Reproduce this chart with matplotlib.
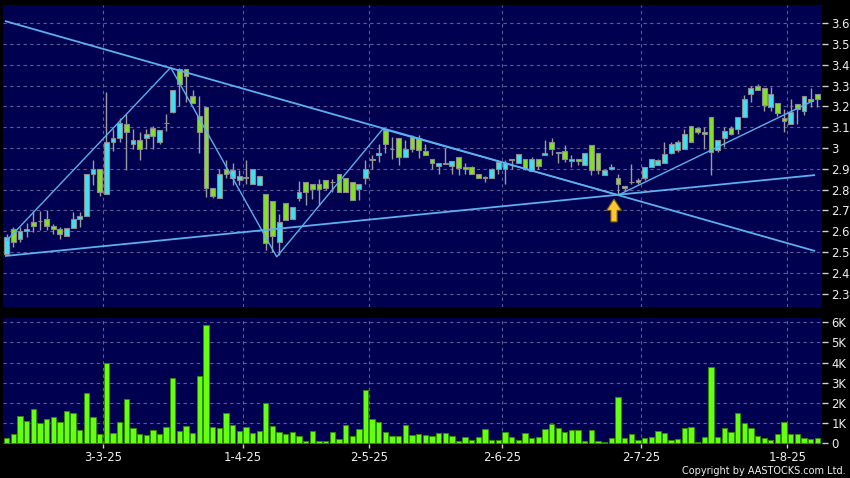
import matplotlib
matplotlib.use("Agg")
import matplotlib.pyplot as plt
import numpy as np
from matplotlib.patches import Polygon

# ---------------- data ----------------
opens = [2.489, 2.609, 2.561, 2.601, 2.642, 2.650, 2.661, 2.626, 2.609, 2.578,
         2.617, 2.661, 2.672, 2.876, 2.900, 2.781, 3.029, 3.048, 3.115, 3.020,
         3.039, 3.048, 3.094, 3.029, 3.118, 3.174, 3.378, 3.378, 3.249, 3.155,
         3.195, 2.808, 2.762, 2.900, 2.857, 2.848, 2.857, 2.828, 2.820, 2.781,
         2.746, 2.550, 2.738, 2.658, 2.760, 2.837, 2.829, 2.826, 2.848, 2.837,
         2.873, 2.856, 2.837, 2.802, 2.856, 2.940, 2.967, 3.088, 2.996, 3.047,
         2.956, 3.053, 3.049, 2.985, 2.948, 2.912, 2.921, 2.912, 2.956, 2.908,
         2.908, 2.877, 2.857, 2.857, 2.897, 2.897, 2.940, 2.929, 2.948, 2.889,
         2.948, 2.967, 3.028, 2.977, 2.985, 2.937, 2.948, 2.916, 3.012, 2.977,
         2.869, 2.900, 2.857, 2.818, 2.837, 2.837, 2.857, 2.908, 2.916, 2.929,
         2.977, 2.990, 2.996, 3.108, 3.095, 3.076, 3.147, 2.988, 3.049, 3.095,
         3.089, 3.148, 3.259, 3.296, 3.286, 3.195, 3.216, 3.143, 3.116, 3.211,
         3.179, 3.235, 3.259]
highs = [2.589, 2.621, 2.621, 2.640, 2.698, 2.698, 2.701, 2.637, 2.621, 2.617,
         2.693, 2.693, 2.876, 2.940, 2.900, 3.270, 3.091, 3.142, 3.163, 3.091,
         3.075, 3.091, 3.107, 3.087, 3.163, 3.278, 3.383, 3.378, 3.278, 3.251,
         3.195, 2.808, 2.900, 2.940, 2.927, 2.892, 2.940, 2.900, 2.865, 2.781,
         2.746, 2.685, 2.738, 2.717, 2.840, 2.837, 2.829, 2.850, 2.848, 2.853,
         2.873, 2.856, 2.837, 2.826, 2.940, 2.967, 3.020, 3.088, 3.052, 3.047,
         3.036, 3.060, 3.060, 3.020, 2.948, 2.929, 2.999, 2.937, 2.956, 2.928,
         2.912, 2.877, 2.864, 2.905, 2.943, 2.943, 2.948, 2.969, 2.948, 2.956,
         2.948, 3.036, 3.049, 2.983, 3.012, 2.967, 2.948, 2.977, 3.012, 2.977,
         2.893, 2.921, 2.877, 2.818, 2.921, 2.857, 2.908, 2.948, 2.948, 3.028,
         3.028, 3.040, 3.092, 3.108, 3.095, 3.100, 3.147, 3.036, 3.100, 3.108,
         3.148, 3.254, 3.299, 3.307, 3.286, 3.291, 3.216, 3.187, 3.235, 3.211,
         3.248, 3.286, 3.259]
lows = [2.485, 2.523, 2.550, 2.573, 2.597, 2.605, 2.605, 2.586, 2.561, 2.578,
        2.617, 2.621, 2.672, 2.820, 2.768, 2.781, 2.985, 3.028, 2.892, 2.996,
        2.940, 2.996, 2.996, 3.020, 3.083, 3.166, 3.203, 3.219, 3.214, 2.975,
        2.765, 2.762, 2.762, 2.857, 2.820, 2.820, 2.828, 2.828, 2.820, 2.510,
        2.502, 2.486, 2.654, 2.658, 2.744, 2.725, 2.757, 2.728, 2.797, 2.789,
        2.789, 2.789, 2.748, 2.749, 2.829, 2.897, 2.932, 2.977, 2.948, 2.920,
        2.956, 2.980, 2.951, 2.967, 2.900, 2.877, 2.921, 2.877, 2.869, 2.877,
        2.877, 2.857, 2.837, 2.857, 2.877, 2.829, 2.900, 2.929, 2.892, 2.889,
        2.900, 2.967, 2.967, 2.928, 2.935, 2.908, 2.920, 2.916, 2.869, 2.877,
        2.869, 2.896, 2.773, 2.797, 2.829, 2.826, 2.848, 2.908, 2.916, 2.929,
        2.969, 2.980, 2.996, 3.028, 3.068, 2.996, 2.869, 2.980, 3.004, 3.060,
        3.068, 3.148, 3.219, 3.280, 3.179, 3.179, 3.155, 3.076, 3.116, 3.116,
        3.159, 3.195, 3.195]
closes = [2.570, 2.550, 2.599, 2.610, 2.626, 2.650, 2.626, 2.609, 2.589, 2.617,
          2.661, 2.674, 2.876, 2.900, 2.789, 3.029, 3.048, 3.118, 3.075, 3.039,
          2.996, 3.067, 3.058, 3.087, 3.118, 3.278, 3.306, 3.346, 3.214, 3.075,
          2.808, 2.768, 2.876, 2.876, 2.892, 2.865, 2.857, 2.900, 2.865, 2.542,
          2.577, 2.642, 2.654, 2.717, 2.789, 2.789, 2.802, 2.802, 2.810, 2.837,
          2.789, 2.789, 2.748, 2.826, 2.897, 2.948, 2.977, 3.020, 2.996, 2.956,
          2.996, 2.996, 2.988, 2.967, 2.929, 2.929, 2.929, 2.937, 2.904, 2.901,
          2.877, 2.857, 2.857, 2.897, 2.935, 2.927, 2.948, 2.969, 2.900, 2.948,
          2.913, 2.977, 2.996, 2.977, 2.948, 2.948, 2.937, 2.977, 2.893, 2.893,
          2.893, 2.908, 2.826, 2.808, 2.837, 2.848, 2.908, 2.948, 2.940, 2.969,
          3.020, 3.031, 3.068, 3.031, 3.076, 3.068, 2.980, 3.036, 3.084, 3.068,
          3.148, 3.235, 3.286, 3.280, 3.207, 3.259, 3.168, 3.132, 3.171, 3.187,
          3.248, 3.226, 3.235]
volumes_k = [0.28, 0.45, 1.36, 1.11, 1.72, 0.99, 1.22, 1.29, 1.06, 1.59,
             1.50, 0.66, 2.48, 1.29, 0.48, 3.98, 0.50, 1.06, 2.21, 0.76,
             0.46, 0.43, 0.66, 0.46, 0.79, 3.26, 0.63, 0.84, 0.53, 3.34,
             5.87, 0.81, 0.74, 1.49, 0.89, 0.61, 0.79, 0.51, 0.63, 2.00,
             0.84, 0.58, 0.46, 0.56, 0.36, 0.13, 0.60, 0.13, 0.13, 0.58,
             0.23, 0.91, 0.36, 0.69, 2.64, 1.21, 1.07, 0.56, 0.36, 0.38,
             0.91, 0.41, 0.47, 0.40, 0.38, 0.50, 0.52, 0.37, 0.12, 0.33,
             0.15, 0.33, 0.70, 0.17, 0.17, 0.55, 0.30, 0.18, 0.50, 0.27,
             0.32, 0.71, 0.97, 0.77, 0.55, 0.66, 0.66, 0.10, 0.66, 0.13,
             0.08, 0.25, 2.31, 0.28, 0.46, 0.17, 0.26, 0.31, 0.61, 0.53,
             0.17, 0.20, 0.78, 0.79, 0.05, 0.31, 3.77, 0.31, 0.76, 0.55,
             1.49, 0.99, 0.74, 0.36, 0.28, 0.18, 0.46, 1.07, 0.45, 0.45,
             0.25, 0.21, 0.28]

date_labels = ["3-3-25", "1-4-25", "2-5-25", "2-6-25", "2-7-25", "1-8-25"]
date_bar_idx = [15, 36, 55, 75, 96, 118]

price_ticks = [2.3, 2.4, 2.5, 2.6, 2.7, 2.8, 2.9, 3.0, 3.1, 3.2, 3.3, 3.4, 3.5, 3.6]
price_tick_labels = ["2.3", "2.4", "2.5", "2.6", "2.7", "2.8", "2.9", "3",
                     "3.1", "3.2", "3.3", "3.4", "3.5", "3.6"]
vol_ticks = [0, 1, 2, 3, 4, 5, 6]
vol_tick_labels = ["0", "1K", "2K", "3K", "4K", "5K", "6K"]

# drawn trend lines (bar index, price)
down_line_x = [-0.26, 121.66]
down_line_y = [3.610, 2.505]
up_line_x = [-0.26, 121.66]
up_line_y = [2.481, 2.870]
zigzag_x = [0.0, 24.68, 40.64, 56.59, 92.05, 121.4]
zigzag_y = [2.555, 3.387, 2.477, 3.091, 2.774, 3.227]
arrow_bar = 91.4
arrow_tip = 2.755
arrow_head_base = 2.700
arrow_tail = 2.645

# ---------------- style ----------------
BG = "#000050"
GRID = "#5e5e96"
UP = "#40e0f0"
DOWN = "#84e024"
EDGE = "#8c8c8c"
WICK = "#9c9c9c"
LINE = "#5cb0ee"
TXT = "#f0f0f0"

W, H = 850, 478
fig = plt.figure(figsize=(W / 100, H / 100), dpi=100, facecolor="black")

def px_axes(x0, y0, x1, y1):
    return fig.add_axes([x0 / W, 1 - y1 / H, (x1 - x0) / W, (y1 - y0) / H])

ax = px_axes(3.3, 5, 821.7, 307)
axv = px_axes(3.3, 318.3, 821.7, 444.3)

n = len(opens)
x = np.arange(n)
o = np.array(opens); c = np.array(closes)
h = np.array(highs); l = np.array(lows)

xlim = (-0.51, 122.66)
tick_pos = [i - 0.5 for i in date_bar_idx]

for a in (ax, axv):
    a.set_facecolor(BG)
    a.set_xlim(*xlim)
    for s in a.spines.values():
        s.set_visible(False)
    a.set_xticks(tick_pos)
    a.grid(True, color=GRID, linestyle=(0, (3, 3)), linewidth=0.8)
    a.set_axisbelow(True)
    a.yaxis.tick_right()
    a.tick_params(axis="y", colors="#d0d0d0", labelcolor=TXT, length=4,
                  width=1, pad=3, labelsize=8.4, direction="out")

# price panel
ax.set_ylim(2.236, 3.687)
ax.set_yticks(price_ticks)
ax.set_yticklabels(price_tick_labels)
ax.tick_params(axis="x", length=0, labelbottom=False)

ax.vlines(x, l, h, color=WICK, linewidth=1.0, zorder=2)
body_bottom = np.minimum(o, c)
body_h = np.maximum(np.abs(c - o), 0.0015)
colors = [UP if cc > oo else (DOWN if cc < oo else "#a0a0a0") for oo, cc in zip(o, c)]
ax.bar(x, body_h, bottom=body_bottom, width=0.72, color=colors,
       edgecolor=EDGE, linewidth=0.8, zorder=3)

ax.plot(down_line_x, down_line_y, color=LINE, linewidth=1.3, zorder=4,
        solid_capstyle="butt")
ax.plot(up_line_x, up_line_y, color=LINE, linewidth=1.3, zorder=4,
        solid_capstyle="butt")
ax.plot(zigzag_x, zigzag_y, color=LINE, linewidth=1.0, zorder=4)

hw, sw = 1.13, 0.47
arrow_pts = [(arrow_bar, arrow_tip), (arrow_bar + hw, arrow_head_base),
             (arrow_bar + sw, arrow_head_base), (arrow_bar + sw, arrow_tail),
             (arrow_bar - sw, arrow_tail), (arrow_bar - sw, arrow_head_base),
             (arrow_bar - hw, arrow_head_base)]
ax.add_patch(Polygon(arrow_pts, closed=True, facecolor="#ffc830",
                     edgecolor="#7a5a10", linewidth=0.8, zorder=5))

# volume panel
axv.set_ylim(-0.05, 6.2)
axv.set_yticks(vol_ticks)
axv.set_yticklabels(vol_tick_labels)
axv.bar(x, volumes_k, width=0.8, color="#66ff10", edgecolor="#2f8a00",
        linewidth=0.7, zorder=3)
axv.set_xticklabels(date_labels)
axv.tick_params(axis="x", colors="#d0d0d0", labelcolor=TXT, length=3,
                width=1, pad=2, labelsize=8.4, direction="out")

fig.text(846 / W, 1 - 471.5 / H, "Copyright by AASTOCKS.com Ltd.", color=TXT,
         fontsize=7.0, ha="right", va="center")

fig.savefig("out.png", dpi=100, facecolor="black")
